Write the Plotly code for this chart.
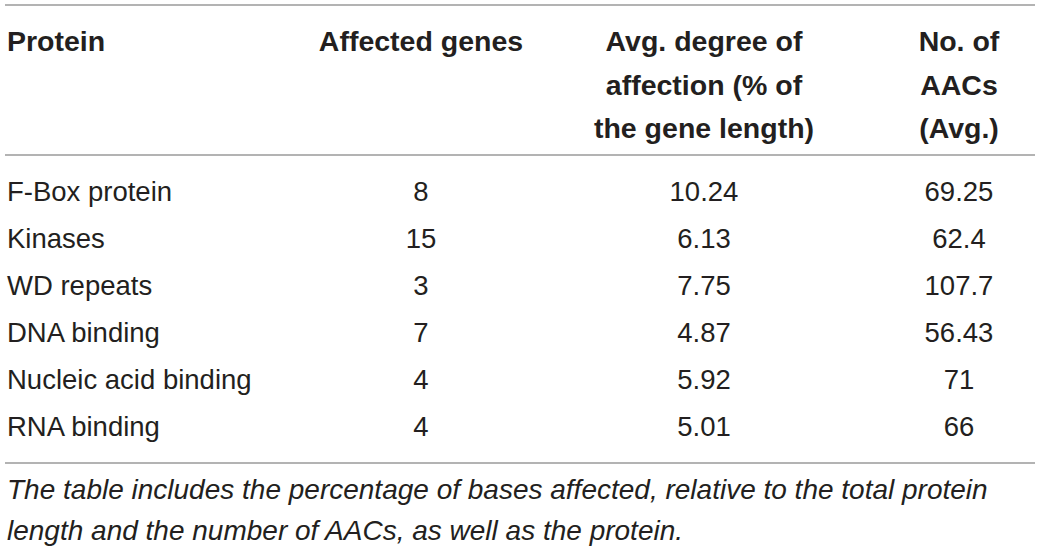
import plotly.graph_objects as go

# ---- data ----
proteins = ["F-Box protein", "Kinases", "WD repeats", "DNA binding",
            "Nucleic acid binding", "RNA binding"]
affected_genes = [8, 15, 3, 7, 4, 4]
avg_degree = [10.24, 6.13, 7.75, 4.87, 5.92, 5.01]
no_aacs = [69.25, 62.4, 107.7, 56.43, 71, 66]

header_protein = ["Protein"]
header_genes = ["Affected genes"]
header_degree = ["Avg. degree of", "affection (% of", "the gene length)"]
header_aacs = ["No. of", "AACs", "(Avg.)"]

footnote_lines = [
    "The table includes the percentage of bases affected, relative to the total protein",
    "length and the number of AACs, as well as the protein.",
]

# ---- layout constants (pixels) ----
W, H = 1040, 549
TXT = "#231f20"
RULE = "#9a9a9a"
col_left = 7
col_centers = [421, 704, 959]
header_y0, header_dy = 44, 43.5
row_y0, row_dy = 194.5, 47
foot_y0, foot_dy = 491.5, 41
rules_y = [5, 155, 463]

body_font = dict(family="Liberation Sans", size=27.5, color=TXT)
head_font = dict(family="Liberation Sans", size=28.5, color=TXT, weight="bold")
foot_font = dict(family="Liberation Sans", size=28, color=TXT, style="italic")

fig = go.Figure()

def add_text(xs, ys, texts, font, pos):
    fig.add_trace(go.Scatter(x=xs, y=ys, text=texts, mode="text",
                             textposition=pos, textfont=font, cliponaxis=False,
                             hoverinfo="skip", showlegend=False))

# headers
for lines, x, pos in [(header_protein, col_left, "middle right"),
                      (header_genes, col_centers[0], "middle center"),
                      (header_degree, col_centers[1], "middle center"),
                      (header_aacs, col_centers[2], "middle center")]:
    ys = [header_y0 + i * header_dy for i in range(len(lines))]
    add_text([x] * len(lines), ys, lines, head_font, pos)

# body
row_ys = [row_y0 + i * row_dy for i in range(len(proteins))]
add_text([col_left] * len(proteins), row_ys, proteins, body_font, "middle right")
add_text([col_centers[0]] * len(proteins), row_ys, [str(v) for v in affected_genes], body_font, "middle center")
add_text([col_centers[1]] * len(proteins), row_ys, [str(v) for v in avg_degree], body_font, "middle center")
add_text([col_centers[2]] * len(proteins), row_ys, [str(v) for v in no_aacs], body_font, "middle center")

# footnote
foot_ys = [foot_y0 + i * foot_dy for i in range(len(footnote_lines))]
add_text([col_left] * len(footnote_lines), foot_ys, footnote_lines, foot_font, "middle right")

# rules
for y in rules_y:
    fig.add_shape(type="line", x0=5, x1=1035, y0=y, y1=y, xref="x", yref="y",
                  line=dict(color=RULE, width=1.5))

fig.update_layout(
    width=W, height=H, margin=dict(l=0, r=0, t=0, b=0),
    paper_bgcolor="white", plot_bgcolor="white",
    xaxis=dict(range=[0, W], visible=False, fixedrange=True),
    yaxis=dict(range=[H, 0], visible=False, fixedrange=True),
)

fig.write_html("out.html", config={"displayModeBar": False},
               post_script="document.body.style.margin='0';")
